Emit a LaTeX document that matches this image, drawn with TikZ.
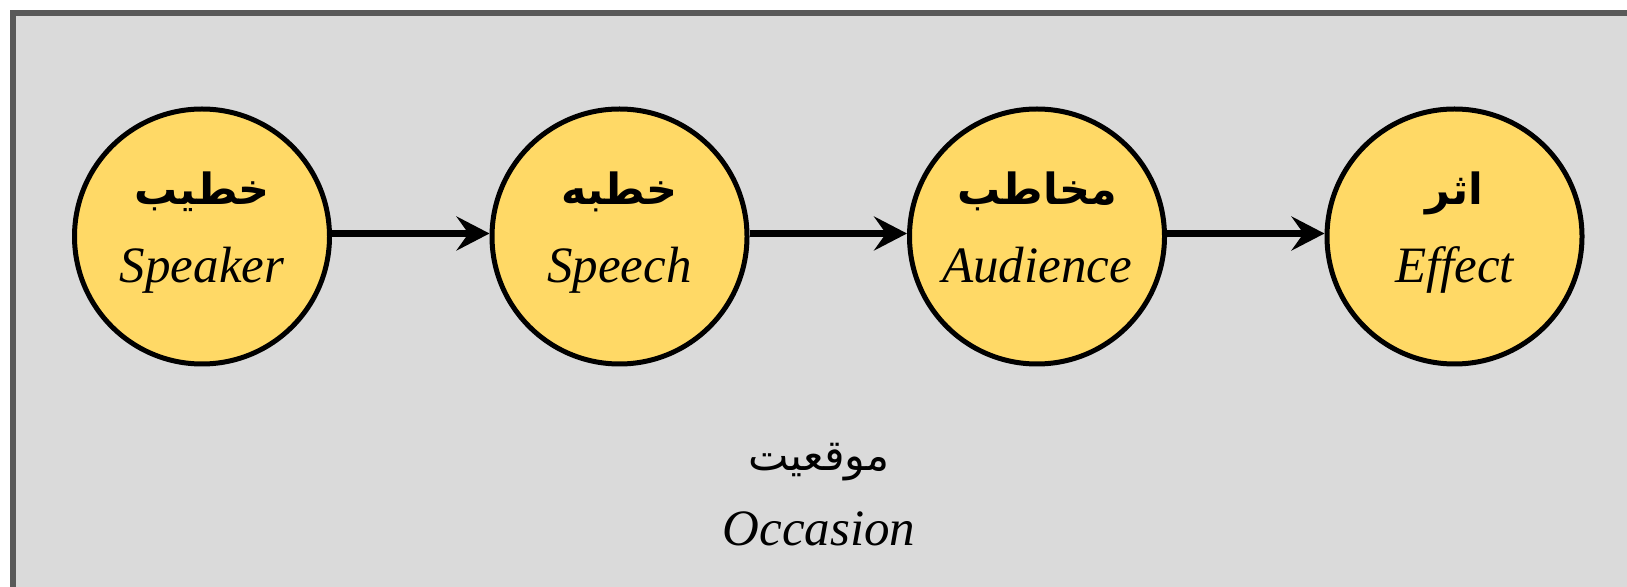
\documentclass[tikz,border=0pt]{standalone}
\usepackage{fontspec}
\setmainfont{Liberation Serif}
\newfontfamily\arabicfont[Script=Arabic]{DejaVu Sans}
\TeXXeTstate=1
\usetikzlibrary{arrows.meta}
\definecolor{bgfill}{HTML}{DADADA}
\definecolor{bordergray}{HTML}{595959}
\definecolor{nodeyellow}{HTML}{FFD966}
\begin{document}
\begin{tikzpicture}[x=0.5pt,y=-0.5pt,
  person/.style={circle, draw=black, fill=nodeyellow, line width=2.5pt, minimum size=127.5pt, inner sep=0pt},
  fab/.style={anchor=base, font=\arabicfont\bfseries\fontsize{21.5}{25}\selectfont, inner sep=0pt},
  far/.style={anchor=base, font=\arabicfont\fontsize{21.5}{25}\selectfont, inner sep=0pt},
  en/.style={anchor=base, font=\fontsize{25.5}{31}\selectfont\itshape, inner sep=0pt},
  flow/.style={line width=3.3pt, -{Stealth[length=16.5pt,width=17pt,inset=6pt]}}]
\clip (0,0) rectangle (1627,587);
\fill[white] (0,0) rectangle (1627,587);
\draw[line width=3pt, draw=bordergray, fill=bgfill] (13,13) rectangle (1700,700);
\node[person] (s) at (202,236.5) {};
\node[person] (sp) at (619.5,236.5) {};
\node[person] (au) at (1037,236.5) {};
\node[person] (ef) at (1454.5,236.5) {};
\node[fab] (s-fa) at (202,205) {\beginR خطیب\endR};
\node[en] (s-en) at (202,283) {Speaker};
\node[fab] (sp-fa) at (619.5,205) {\beginR خطبه\endR};
\node[en] (sp-en) at (619.5,283) {Speech};
\node[fab] (au-fa) at (1037,205) {\beginR مخاطب\endR};
\node[en] (au-en) at (1037,283) {Audience};
\node[fab] (ef-fa) at (1454.5,205) {\beginR اثر\endR};
\node[en] (ef-en) at (1454.5,283) {Effect};
\draw[flow] ([yshift=1.5pt]s.east) -- ([yshift=1.5pt]sp.west);
\draw[flow] ([yshift=1.5pt]sp.east) -- ([yshift=1.5pt]au.west);
\draw[flow] ([yshift=1.5pt]au.east) -- ([yshift=1.5pt]ef.west);
\node[far] (oc-fa) at (819,470) {\beginR موقعیت\endR};
\node[en] (oc-en) at (819,545) {Occasion};
\end{tikzpicture}
\end{document}
